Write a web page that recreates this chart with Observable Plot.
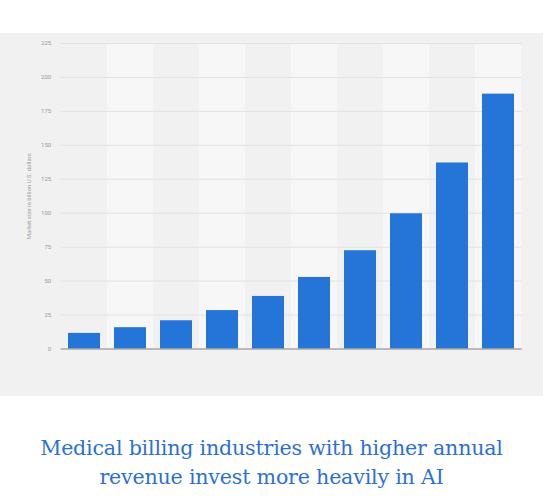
<!DOCTYPE html>
<html>
<head>
<meta charset="utf-8">
<script src="https://cdn.jsdelivr.net/npm/d3@7"></script>
<script src="https://cdn.jsdelivr.net/npm/@observablehq/plot@0.6"></script>
<style>
  body { margin: 0; background: #fff; width: 543px; }
  #chart { margin-top: 33px; background: #f1f1f1; height: 363px; }
  #chart svg { display: block; }
  h2 {
    margin: 38px 0 0 0;
    font-family: "DejaVu Serif", serif;
    font-weight: normal;
    font-size: 20.6px;
    line-height: 29px;
    color: #2b70d6;
    text-align: center;
    letter-spacing: -0.2px;
  }
</style>
</head>
<body>
<div id="chart"></div>
<h2>Medical billing industries with higher annual<br>revenue invest more heavily in AI</h2>
<script>
const years = ['2021', '2022', '2023', '2024', '2025', '2026', '2027', '2028', '2029', '2030'];
const marketSize = [11.5, 15.7, 20.8, 28.3, 38.7, 52.7, 72.4, 99.6, 137, 187.7];
const yTicks = [0, 25, 50, 75, 100, 125, 150, 175, 200, 225];

const data = years.map((year, i) => ({ year, value: marketSize[i] }));
// every second column gets a lighter band
const bands = years.filter((d, i) => i % 2 === 1);

const chart = Plot.plot({
  width: 543,
  height: 363,
  marginTop: 10,
  marginBottom: 47.5,
  marginLeft: 60.7,
  marginRight: 21.3,
  style: { background: '#f1f1f1', fontFamily: 'Roboto, sans-serif' },
  x: { domain: years, paddingInner: 0.3, paddingOuter: 0.15, axis: null },
  y: { domain: [0, 225], axis: null },
  marks: [
    Plot.barY(bands, { x: d => d, y1: 0, y2: 225, fill: '#f7f7f7', insetLeft: -6.95, insetRight: -6.95 }),
    Plot.gridY(yTicks, { stroke: '#e2e2e2', strokeOpacity: 1, strokeWidth: 1 }),
    Plot.axisY(yTicks, {
      tickSize: 0,
      tickPadding: 10,
      fontSize: 6,
      fill: '#9a9a9a',
      label: 'Market size in billion U.S. dollars',
      labelAnchor: 'center',
      labelOffset: 34,
      labelArrow: 'none'
    }),
    Plot.barY(data, { x: 'year', y: 'value', fill: '#2575d9' }),
    Plot.ruleY([0], { stroke: '#8a8a8a', strokeWidth: 1 })
  ]
});

d3.select('#chart').append(() => chart);
</script>
</body>
</html>
